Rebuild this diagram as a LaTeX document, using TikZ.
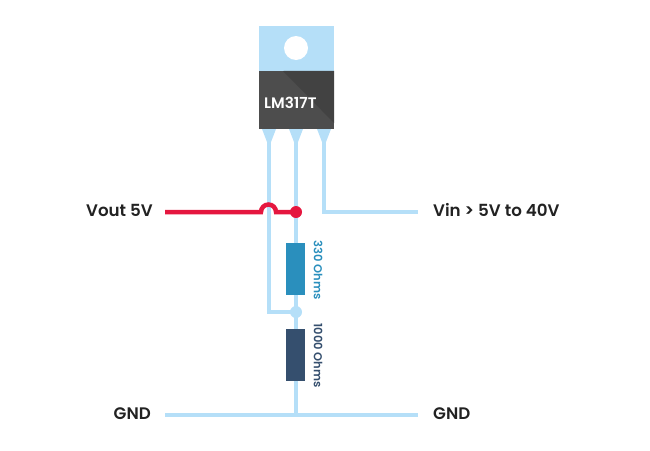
\documentclass[tikz,border=0pt]{standalone}
\usepackage{fontspec}
\setmainfont{Poppins}[BoldFont={Poppins SemiBold}]
\usetikzlibrary{positioning}
\definecolor{wireblue}{HTML}{B5DFF8}
\definecolor{wirered}{HTML}{E5173F}
\definecolor{resone}{HTML}{2A8FBD}
\definecolor{restwo}{HTML}{354F6E}
\definecolor{bodylight}{HTML}{4D4D4D}
\definecolor{bodydark}{HTML}{424242}
\definecolor{labeltext}{HTML}{222222}
\tikzset{
    wire/.style={draw=wireblue, line width=4pt},
    redwire/.style={draw=wirered, line width=4.5pt},
    pintip/.style={fill=wireblue},
    resistor/.style={rectangle, minimum width=19pt, minimum height=52pt, inner sep=0pt},
    dot/.style={circle, minimum size=12pt, inner sep=0pt},
    label/.style={font=\fontsize{16.7pt}{18pt}\selectfont\bfseries, text=labeltext, inner sep=0pt},
    reslabel/.style={font=\fontsize{11.5pt}{13pt}\selectfont\bfseries, rotate=-90, inner sep=0pt}
}
\begin{document}
\begin{tikzpicture}[x=1pt, y=-1pt]
    \useasboundingbox (0,0) rectangle (650,450);

    % the wire ends
    \coordinate (pinleft) at (269,129);
    \coordinate (pinmid) at (296,129);
    \coordinate (pinright) at (324,129);
    \coordinate (vincorner) at (324,212);
    \coordinate (vinend) at (418,212);
    \coordinate (leftcorner) at (269,312);
    \coordinate (junction) at (296,312);
    \coordinate (gndleft) at (165,414.5);
    \coordinate (gndmid) at (296,414.5);
    \coordinate (gndright) at (418,414.5);
    \coordinate (voutstart) at (165,212);
    \coordinate (bumpin) at (258,212);
    \coordinate (bumpout) at (279,212);
    \coordinate (tap) at (296,212);

    % draw the blue wires
    \draw[wire] (pinleft) -- (leftcorner) -- (junction);
    \draw[wire] (pinmid) -- (gndmid);
    \draw[wire] (pinright) -- (vincorner) -- (vinend);
    \draw[wire] (gndleft) -- (gndright);

    % draw the pin tips
    \foreach \p in {pinleft, pinmid, pinright}
        \fill[pintip] (\p) ++(-7,0) -- ++(14,0) -- ++(-5,13) -- ++(-4,0) -- cycle;

    % draw the red wire with its bump
    \draw[redwire] (voutstart) -- (bumpin) -- ++(3,0) arc[start angle=180, end angle=360, radius=7.5] -- (bumpout) -- (tap);

    % draw the transistor
    \node[rectangle, fill=wireblue, minimum width=75pt, minimum height=45pt, inner sep=0pt] (tab) at (296.5,48.5) {};
    \node[circle, fill=white, minimum size=24pt, inner sep=0pt] (hole) at (296,48) {};
    \node[rectangle, fill=bodylight, minimum width=75pt, minimum height=58pt, inner sep=0pt] (body) at (296.5,100) {};
    \fill[bodydark] (283,71) -- (body.north east) -- (334,123) -- cycle;
    \node[font=\fontsize{15.2pt}{18pt}\selectfont\bfseries, text=white, inner sep=0pt, anchor=west] (partname) at (264,103) {LM317T};

    % draw the dots
    \node[dot, fill=wirered] (reddot) at (tap) {};
    \node[dot, fill=wireblue] (bluedot) at (junction) {};

    % draw the resistors
    \node[resistor, fill=resone] (rone) at (295.5,269) {};
    \node[resistor, fill=restwo] (rtwo) at (295.5,354.5) {};
    \node[reslabel, text=resone] (ronelabel) at (318,270) {330 Ohms};
    \node[reslabel, text=restwo] (rtwolabel) at (318,355.5) {1000 Ohms};

    % draw the labels
    \node[label, anchor=east] (vout) at (153,210) {Vout 5V};
    \node[label, anchor=west] (vin) at (433,210) {Vin > 5V to 40V};
    \node[label, anchor=east] (gndl) at (151,414) {GND};
    \node[label, anchor=west] (gndr) at (433,414) {GND};
\end{tikzpicture}
\end{document}
